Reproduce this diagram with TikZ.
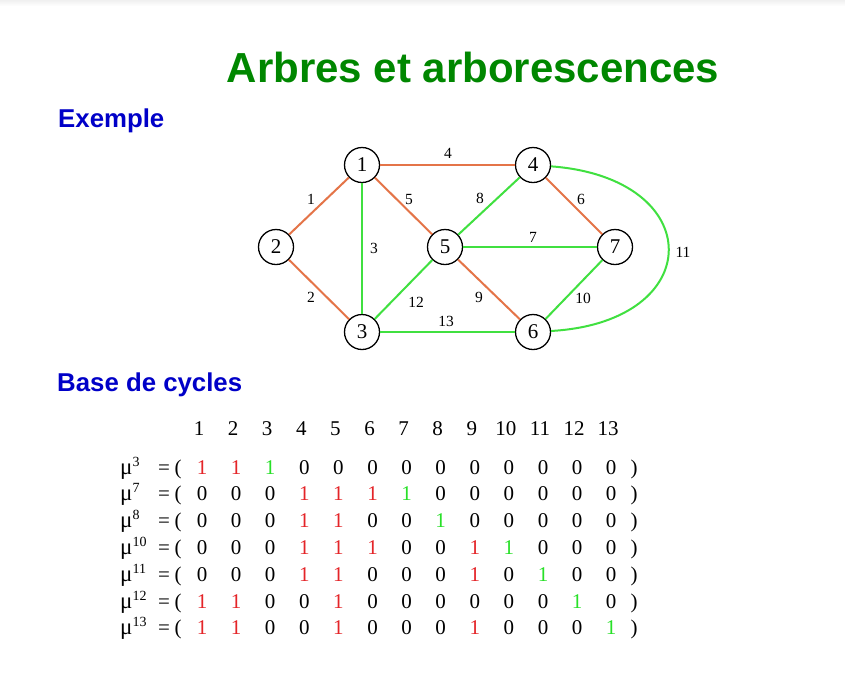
\documentclass[tikz,border=0pt]{standalone}
\usepackage{fontspec}
\setmainfont{Liberation Serif}
\newfontfamily\headfont{Liberation Sans}

\definecolor{titlegreen}{RGB}{0,135,0}
\definecolor{headblue}{RGB}{0,0,200}
\definecolor{treeorange}{RGB}{228,116,72}
\definecolor{cogreen}{RGB}{64,224,64}
\definecolor{oneRed}{RGB}{228,36,40}
\definecolor{oneGreen}{RGB}{40,224,40}

% one row of the cycle base: #1 row index, #2 cycle index, #3 entries value/colour
\newcommand\cyclerow[3]{%
  \pgfmathsetmacro\ry{474+26.8*(#1-1)}
  \node[rowlab] (mu#1) at (120,\ry)
    {{\fontsize{23}{23}\selectfont μ}\raisebox{8pt}{\fontsize{14}{14}\selectfont #2}};
  \node[cell] (eq#1) at (164,\ry) {=};
  \node[cell] (op#1) at (178,\ry) {(};
  \foreach \v/\s [count=\c] in {#3} {
    \node[cell,text=\s] (m#1-\c) at ({202+34.1*(\c-1)},\ry) {\v};
  }
  \node[cell] (cp#1) at (634,\ry) {)};
}

\begin{document}
\begin{tikzpicture}[x=1pt,y=-1pt,
  vertex/.style={circle,draw=black,line width=1.3pt,minimum size=35pt,inner sep=0pt,
    font=\fontsize{21}{21}\selectfont},
  tree/.style={draw=treeorange,line width=2pt},
  cotree/.style={draw=cogreen,line width=2pt},
  elabel/.style={inner sep=0pt,font=\fontsize{15.5}{15.5}\selectfont},
  cell/.style={anchor=base,inner sep=0pt,font=\fontsize{21}{21}\selectfont},
  rowlab/.style={anchor=base west,inner sep=0pt,font=\fontsize{21}{21}\selectfont},
  heading/.style={anchor=base west,inner sep=0pt,text=headblue,
    font=\headfont\bfseries\fontsize{25.8}{25.8}\selectfont},
]
\useasboundingbox (0,0) rectangle (845,694);
\fill[white] (0,0) rectangle (845,694);
\shade[top color=black!6,bottom color=white] (0,0) rectangle (845,6);

% titles
\node[anchor=base,inner sep=0pt,text=titlegreen,
  font=\headfont\bfseries\fontsize{42}{42}\selectfont] (title) at (473,82)
  {Arbres et arborescences};
\node[heading] (ex) at (58,127) {Exemple};
\node[heading] (base) at (57,391) {Base de cycles};

% graph vertices
\node[vertex] (n1) at (362,165) {1};
\node[vertex] (n4) at (533,165) {4};
\node[vertex] (n2) at (276,247) {2};
\node[vertex] (n5) at (445,247) {5};
\node[vertex] (n7) at (615,247) {7};
\node[vertex] (n3) at (362,332) {3};
\node[vertex] (n6) at (533,332) {6};

% spanning tree edges
\draw[tree] (n2) -- (n1);
\draw[tree] (n2) -- (n3);
\draw[tree] (n1) -- (n4);
\draw[tree] (n1) -- (n5);
\draw[tree] (n4) -- (n7);
\draw[tree] (n5) -- (n6);
% co-tree edges
\draw[cotree] (n1) -- (n3);
\draw[cotree] (n5) -- (n7);
\draw[cotree] (n5) -- (n4);
\draw[cotree] (n6) -- (n7);
\draw[cotree] (n3) -- (n5);
\draw[cotree] (n3) -- (n6);
\draw[cotree] (n4) .. controls (708,178) and (708,322) .. (n6);

% edge numbers
\node[elabel] (e1) at (311,199) {1};
\node[elabel] (e2) at (311,297) {2};
\node[elabel] (e3) at (374,248) {3};
\node[elabel] (e4) at (448,153) {4};
\node[elabel] (e5) at (409,199) {5};
\node[elabel] (e6) at (581,199) {6};
\node[elabel] (e7) at (533,237) {7};
\node[elabel] (e8) at (480,198) {8};
\node[elabel] (e9) at (479,297) {9};
\node[elabel] (e10) at (583,298) {10};
\node[elabel] (e11) at (683,252) {11};
\node[elabel] (e12) at (416,302) {12};
\node[elabel] (e13) at (446,321) {13};

% cycle base matrix
\foreach \c in {1,...,13} {
  \node[cell] (h\c) at ({199+34.1*(\c-1)},435) {\c};
}
\cyclerow{1}{3}{1/oneRed,1/oneRed,1/oneGreen,0/black,0/black,0/black,0/black,0/black,0/black,0/black,0/black,0/black,0/black}
\cyclerow{2}{7}{0/black,0/black,0/black,1/oneRed,1/oneRed,1/oneRed,1/oneGreen,0/black,0/black,0/black,0/black,0/black,0/black}
\cyclerow{3}{8}{0/black,0/black,0/black,1/oneRed,1/oneRed,0/black,0/black,1/oneGreen,0/black,0/black,0/black,0/black,0/black}
\cyclerow{4}{10}{0/black,0/black,0/black,1/oneRed,1/oneRed,1/oneRed,0/black,0/black,1/oneRed,1/oneGreen,0/black,0/black,0/black}
\cyclerow{5}{11}{0/black,0/black,0/black,1/oneRed,1/oneRed,0/black,0/black,0/black,1/oneRed,0/black,1/oneGreen,0/black,0/black}
\cyclerow{6}{12}{1/oneRed,1/oneRed,0/black,0/black,1/oneRed,0/black,0/black,0/black,0/black,0/black,0/black,1/oneGreen,0/black}
\cyclerow{7}{13}{1/oneRed,1/oneRed,0/black,0/black,1/oneRed,0/black,0/black,0/black,1/oneRed,0/black,0/black,0/black,1/oneGreen}
\end{tikzpicture}
\end{document}
